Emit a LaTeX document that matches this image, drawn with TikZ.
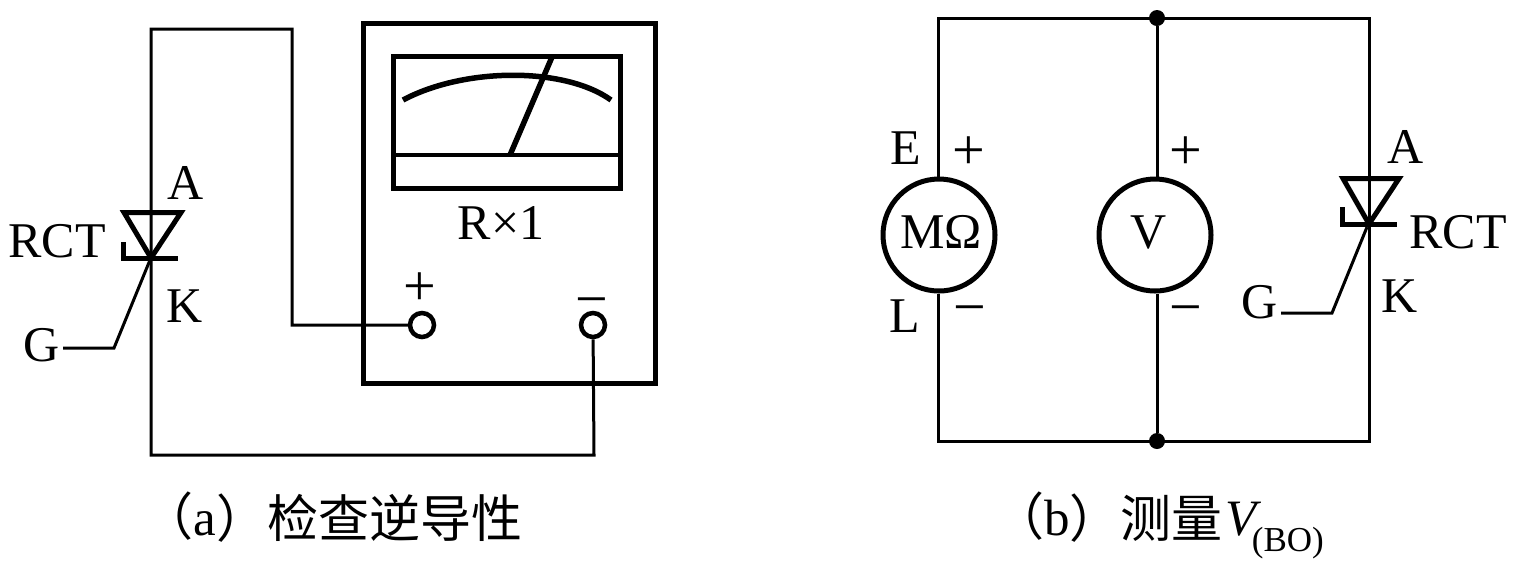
\documentclass[tikz,border=0pt]{standalone}
\usepackage{fontspec}
\setmainfont{Liberation Serif}
\newfontfamily\cjk{Noto Sans CJK SC}
\tikzset{
  wire/.style={line width=1.5pt,line join=miter},
  heavy/.style={line width=2.5pt,line join=miter},
  lbl/.style={anchor=base,inner sep=0pt,font=\fontsize{25}{25}\selectfont},
  signlbl/.style={anchor=base,inner sep=0pt,font=\fontsize{29}{29}\selectfont},
  captext/.style={anchor=base west,inner sep=0pt,font=\fontsize{25.5}{25.5}\selectfont},
  term/.style={circle,draw,line width=2.25pt,minimum size=12pt,inner sep=0pt,fill=white},
  meter/.style={circle,draw,line width=2.5pt,minimum size=56pt,inner sep=0pt},
  junction/.style={circle,fill=black,minimum size=8pt,inner sep=0pt}
}
\begin{document}
\begin{tikzpicture}[x=0.5pt,y=-0.5pt]
\useasboundingbox (0,0) rectangle (1536,564);
\fill[white] (0,0) rectangle (1536,564);
% (a) meter body
\draw[heavy] (363,23) rectangle (655,383);
\draw[heavy] (393,56) rectangle (620,188);
\draw[line width=2.25pt] (393,155) -- (620,155);
\draw[line width=2.75pt] (510,155) -- (552,57);
\draw[line width=2.75pt] (403,100) .. controls (465,67) and (565,67) .. (611,100);
\node[lbl] (rx) at (501,239) {R×1};
\node[signlbl] (plusA) at (420,305) {+};
\node[signlbl] (minusA) at (592,318) {−};
\node[term] (tp) at (422,325) {};
\node[term] (tn) at (593,325) {};
% (a) wires
\coordinate (a1) at (151,29);
\coordinate (a2) at (292,29);
\coordinate (a3) at (292,325);
\coordinate (a4) at (151,455);
\coordinate (a5) at (594,455);
\draw[wire] (tp) -- (a3) -- (a2) -- (a1) -- (a4) -- (a5) -- (tn);
% (a) RCT
\draw[heavy] (124,212.5) -- (181,212.5) -- (151,258) -- cycle;
\draw[heavy] (123,242) -- (123,258) -- (178,258);
\coordinate (ga) at (114,348);
\coordinate (gaEnd) at (63,348);
\draw[wire] (150,260) -- (ga) -- (gaEnd);
\node[lbl] (Aa) at (186,199) {A};
\node[lbl] (Ka) at (185,322) {K};
\node[lbl] (Ra) at (57,257) {RCT};
\node[lbl] (Ga) at (42,361) {G};
% (b) circuit
\node[junction] (top) at (1157,18) {};
\node[junction] (bot) at (1157,441) {};
\node[meter] (M) at (939,235) {};
\node[meter] (V) at (1155,235) {};
\coordinate (tl) at (938,18);
\coordinate (tr) at (1369,18);
\coordinate (bl) at (938,441);
\coordinate (br) at (1369,441);
\draw[wire] (M.north -| tl) -- (tl) -- (tr) -- (br) -- (bl) -- (M.south -| bl);
\draw[wire] (top) -- (top |- V.north);
\draw[wire] (bot) -- (bot |- V.south);
\node[lbl] (Mtxt) at (941,248) {MΩ};
\node[lbl] (Vtxt) at (1149,248) {V};
\node[lbl] (Etxt) at (906,164) {E};
\node[lbl] (Ltxt) at (905,332) {L};
\node[signlbl] (p1) at (969,169) {+};
\node[signlbl] (m1) at (970,326) {−};
\node[signlbl] (p2) at (1186,169) {+};
\node[signlbl] (m2) at (1186,326) {−};
% (b) RCT
\draw[heavy] (1343,178.5) -- (1399,178.5) -- (1369,224) -- cycle;
\draw[heavy] (1342,207) -- (1342,224) -- (1397,224);
\coordinate (gb) at (1332,313);
\coordinate (gbEnd) at (1281,313);
\draw[wire] (1367,227) -- (gb) -- (gbEnd);
\node[lbl] (Ab) at (1406,163) {A};
\node[lbl] (Kb) at (1400,312) {K};
\node[lbl] (Rb) at (1458,248) {RCT};
\node[lbl] (Gb) at (1260,318) {G};
% captions
\node[captext] (capa) at (142,535) {{\cjk （}a\raisebox{-1pt}{\cjk ）检查逆导性}};
\node[captext] (capb) at (993,535) {{\cjk （}b\raisebox{-1pt}{\cjk ）测量}\hspace{1.5pt}\textit{V}\hspace{-5pt}\raisebox{-8pt}{\fontsize{17.5}{17.5}\selectfont (BO)}};
\end{tikzpicture}
\end{document}
